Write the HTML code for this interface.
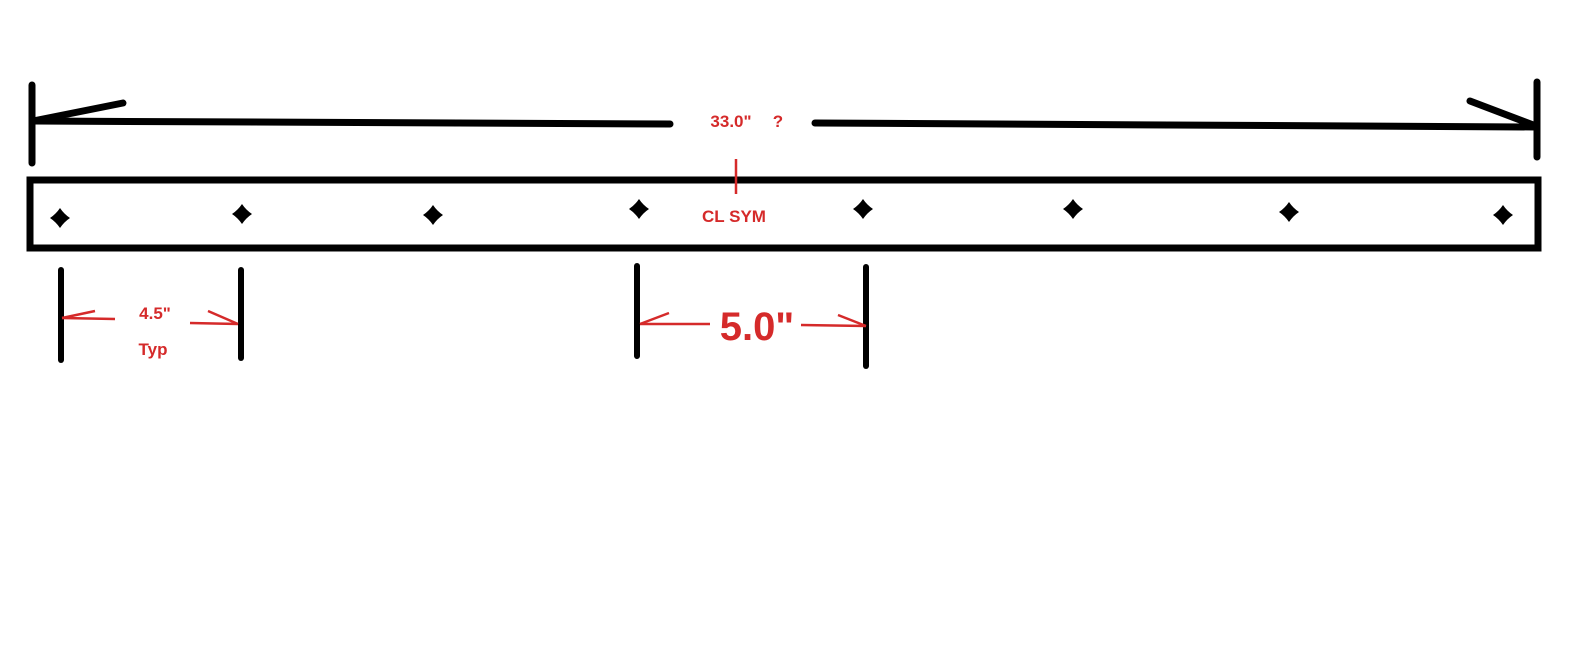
<!DOCTYPE html>
<html><head><style>body{margin:0;background:#fff}svg{display:block}</style></head><body>
<svg width="1572" height="646" xmlns="http://www.w3.org/2000/svg">
<rect width="1572" height="646" fill="#fff"/>
<defs><path id="d" d="M0,-10 Q4,-4 10,0 Q4,4 0,10 Q-4,4 -10,0 Q-4,-4 0,-10Z"/></defs>
<g stroke="#000" stroke-linecap="round" fill="none">
<line x1="32" y1="85" x2="32" y2="163" stroke-width="7"/>
<line x1="1537" y1="82" x2="1537" y2="157" stroke-width="7"/>
<line x1="33" y1="121" x2="123" y2="103" stroke-width="7"/>
<line x1="33" y1="121" x2="670" y2="124" stroke-width="7"/>
<line x1="815" y1="123" x2="1536" y2="127" stroke-width="7"/>
<line x1="1470" y1="101" x2="1536" y2="126" stroke-width="7"/>
<rect x="30" y="180" width="1508" height="68" stroke-width="7" stroke-linecap="butt"/>
<line x1="61" y1="270" x2="61" y2="360" stroke-width="6"/>
<line x1="241" y1="270" x2="241" y2="358" stroke-width="6"/>
<line x1="637" y1="266" x2="637" y2="356" stroke-width="6"/>
<line x1="866" y1="267" x2="866" y2="366" stroke-width="6"/>
</g>
<g fill="#000">
<use href="#d" x="60" y="218"/>
<use href="#d" x="242" y="214"/>
<use href="#d" x="433" y="215"/>
<use href="#d" x="639" y="209"/>
<use href="#d" x="863" y="209"/>
<use href="#d" x="1073" y="209"/>
<use href="#d" x="1289" y="212"/>
<use href="#d" x="1503" y="215"/>
</g>
<g stroke="#d52a2a" stroke-width="2.5" fill="none">
<line x1="736" y1="159" x2="736" y2="194"/>
<line x1="62" y1="318" x2="115" y2="319"/>
<line x1="62" y1="318" x2="95" y2="311"/>
<line x1="190" y1="323" x2="238" y2="324"/>
<line x1="208" y1="311" x2="238" y2="324"/>
<line x1="640" y1="324" x2="710" y2="324"/>
<line x1="640" y1="324" x2="669" y2="313"/>
<line x1="801" y1="325" x2="866" y2="326"/>
<line x1="838" y1="315" x2="866" y2="326"/>
</g>
<g fill="#d52a2a" font-family="'Liberation Sans',sans-serif" font-weight="bold" text-anchor="middle">
<text x="731" y="127" font-size="17">33.0"</text>
<text x="778" y="127" font-size="17">?</text>
<text x="734" y="222" font-size="17">CL SYM</text>
<text x="155" y="319" font-size="17">4.5"</text>
<text x="153" y="355" font-size="17">Typ</text>
<text x="757" y="340" font-size="40">5.0"</text>
</g>
</svg>
</body></html>
